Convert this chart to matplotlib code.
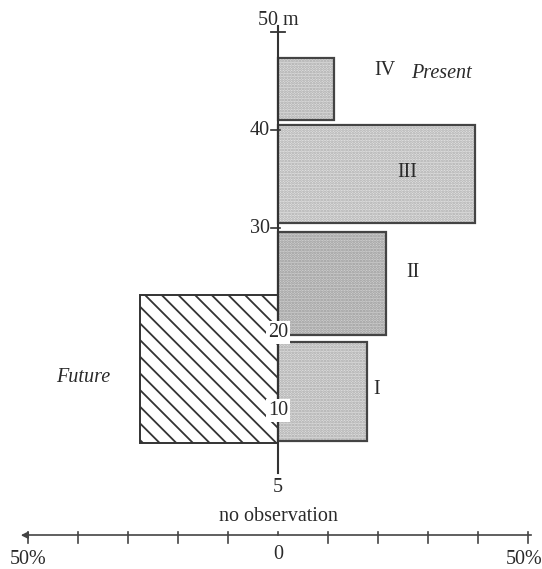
import matplotlib
matplotlib.use("Agg")
import matplotlib.pyplot as plt

plt.rcParams['font.family'] = ['Liberation Serif', 'DejaVu Serif']
plt.rcParams['hatch.linewidth'] = 1.3

# Present distribution (right side): depth bands (m) and share (%)
present_labels = ["I", "II", "III", "IV"]
present_bottom = [8.3, 19.1, 30.5, 41.0]
present_top = [18.4, 29.6, 40.5, 47.3]
present_pct = [17.8, 21.6, 39.3, 11.2]

# Future distribution (left side)
future_bottom = 8.1
future_top = 23.2
future_pct = 27.6

depth_ticks = [50, 40, 30, 20, 10, 5]
pct_ticks = [-50, -40, -30, -20, -10, 0, 10, 20, 30, 40, 50]

W, H = 542, 569
fig = plt.figure(figsize=(W / 100, H / 100), dpi=100)
ax = fig.add_axes([0, 0, 1, 1])
ax.set_xlim(-55.6, 52.8)
ax.set_ylim(-4.8, 53.27)
ax.axis('off')

edge = '#444444'
txt = '#2a2a2a'
fs = 14.5

# present bars: stippled fill + outline
faces = ['#dedede', '#cfcfcf', '#e2e2e2', '#dedede']
dots = ['#a8a8a8', '#999999', '#ababab', '#a8a8a8']
for lab, b, t, p, fc, dc in zip(present_labels, present_bottom, present_top, present_pct, faces, dots):
    ax.bar(0, t - b, width=p, bottom=b, align='edge', facecolor=fc,
           edgecolor=dc, linewidth=0, hatch='......', zorder=2)
    ax.bar(0, t - b, width=p, bottom=b, align='edge', facecolor='none',
           edgecolor=edge, linewidth=1.6, zorder=3)

# future bar (hatched)
ax.bar(0, future_top - future_bottom, width=-future_pct, bottom=future_bottom,
       align='edge', facecolor='white', edgecolor='#333333', linewidth=1.4,
       hatch='\\\\', zorder=2)

# depth axis
ax.plot([0, 0], [5, 50.6], color='#333333', lw=1.5, zorder=4)
ax.plot([-1.4, 1.4], [50, 50], color='#333333', lw=1.3, zorder=4)
for d in [40, 30]:
    ax.plot([-1.5, 0.3], [d, d], color='#333333', lw=1.2, zorder=4)
    ax.text(-1.6, d, str(d), ha='right', va='center', fontsize=fs, color=txt)
ax.text(0, 51.2, "50 m", ha='center', va='center', fontsize=fs, color=txt)
ax.text(0, 19.3, "20", ha='center', va='center', fontsize=fs, color=txt, zorder=5,
        bbox=dict(facecolor='white', edgecolor='none', pad=1.5))
ax.text(0, 11.4, "10", ha='center', va='center', fontsize=fs, color=txt, zorder=5,
        bbox=dict(facecolor='white', edgecolor='none', pad=1.5))
ax.text(0, 3.5, "5", ha='center', va='center', fontsize=fs, color=txt)
ax.text(0, 0.55, "no observation", ha='center', va='center', fontsize=fs, color=txt)

# labels
for lab, x, y in zip(["IV", "III", "II", "I"], [21.4, 25.8, 27.0, 19.8], [46.1, 35.7, 25.5, 13.5]):
    ax.text(x, y, lab, ha='center', va='center', fontsize=fs, color=txt)
ax.text(32.6, 45.8, "Present", ha='center', va='center', fontsize=fs, style='italic', color=txt)
ax.text(-39.0, 14.7, "Future", ha='center', va='center', fontsize=fs, style='italic', color=txt)

# percent axis
ya = -1.35
ax.plot([-50, 50.5], [ya, ya], color='#444444', lw=1.2)
ax.annotate('', xy=(-52, ya), xytext=(-49.8, ya),
            arrowprops=dict(arrowstyle='-|>', color='#444444', lw=1.2, mutation_scale=10))
for p in pct_ticks:
    if p == 0:
        ax.plot([0, 0], [ya, ya + 0.35], color='#444444', lw=1.2)
    else:
        ax.plot([p, p], [ya + 0.3, ya - 0.75], color='#444444', lw=1.2)
ax.text(-50, -3.8, "50%", ha='center', va='center', fontsize=fs, color=txt)
ax.text(0, -3.3, "0", ha='center', va='center', fontsize=fs, color=txt)
ax.text(49.2, -3.8, "50%", ha='center', va='center', fontsize=fs, color=txt)

fig.savefig("out.png", dpi=100)
